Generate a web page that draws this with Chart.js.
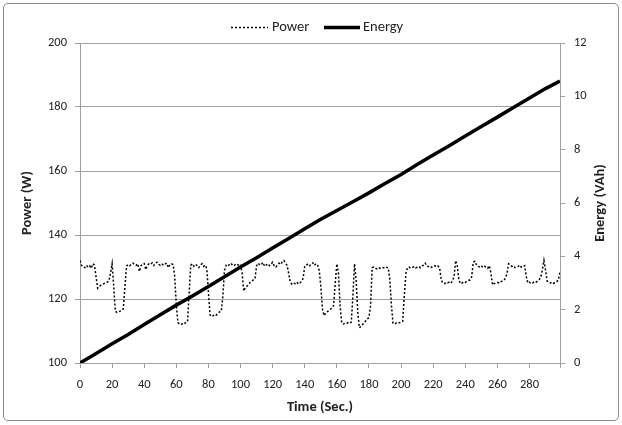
<!DOCTYPE html>
<html>
<head>
<meta charset="utf-8">
<script src="https://cdn.jsdelivr.net/npm/chart.js@4.4.1/dist/chart.umd.min.js"></script>
<style>
  html, body { margin: 0; padding: 0; background: #fff; }
  #wrap { position: relative; width: 622px; height: 425px; }
  #frame {
    position: absolute; left: 3px; top: 3px; width: 614px; height: 416px;
    border: 1px solid #8c8c8c; border-radius: 5px; pointer-events: none;
  }
</style>
</head>
<body>
<div id="wrap">
  <canvas id="chart" width="622" height="425"></canvas>
  <div id="frame"></div>
</div>
<script>
// Power (W), one reading per second, t = 0..299
const powerValues = [
  132, 130.5, 130.2, 129.8, 130.5, 130, 130.4, 129.6, 131, 130.6,
  127, 123.4, 124, 124.3, 124.6, 124.8, 125, 125.3, 125.6, 128,
  131, 124, 116.2, 115.8, 116, 116.2, 116.4, 117, 124, 130.3,
  130.8, 130.4, 130.9, 131.2, 130.7, 130.5, 131, 128.6, 130.4, 130.9,
  131.1, 129.2, 130.6, 131, 130.8, 131.3, 130.5, 131.2, 131.5, 130.8,
  130.6, 131, 130.5, 130.9, 131.2, 129.8, 130.7, 131, 130.8, 127,
  118, 112.6, 112.2, 112, 112.4, 112.2, 112.8, 113, 122, 130.5,
  131, 130.2, 130.8, 130.4, 129.8, 130.5, 131, 130.2, 130.6, 129.5,
  122, 115, 114.5, 114.8, 115.2, 115, 115.6, 116, 116.2, 121,
  129, 130.5, 130.2, 130.8, 131.2, 130.6, 130.4, 131, 130.8, 130.5,
  130.8, 128, 122.5, 123.6, 124, 124.5, 125.2, 125.6, 126, 126.4,
  130.4, 131.2, 130.6, 130.8, 131.4, 130.2, 130.6, 131, 130.4, 130.9,
  131.5, 130.3, 130, 130.6, 131.2, 130.8, 131.6, 132, 131.2, 130.5,
  128, 125.2, 124.6, 125, 124.8, 125.3, 124.7, 125, 125.5, 126.5,
  130.2, 130.6, 131, 130.4, 130.8, 131.3, 130.5, 131, 130.6, 129,
  124, 117, 114.8, 115.5, 116, 116.4, 116.8, 117.2, 118, 125,
  131, 128, 118, 112.6, 112.2, 112.4, 112.3, 112.6, 112.4, 112.8,
  121, 131, 126, 116, 111, 111.4, 112, 112.6, 113.2, 113.8,
  114.2, 118, 129.8, 130, 129.6, 129.4, 129.8, 129.6, 129.5, 129.8,
  129.6, 129.9, 129.7, 126, 118, 112.4, 112.2, 112.5, 112.3, 112.6,
  112.8, 113, 121, 128, 129.8, 130, 129.6, 129.8, 130.1, 129.7,
  129.9, 130.2, 129.8, 130.3, 130.6, 131.2, 130.4, 130.1, 130.3, 129.9,
  130.2, 130.4, 130, 130.3, 129.8, 126, 125, 124.8, 125.2, 125,
  125.3, 125, 125.6, 127, 132, 130.4, 126, 124.8, 125, 125.4,
  125.2, 125.6, 125.8, 126, 127, 131.5, 131.8, 130.6, 130.2, 130,
  130.4, 129.8, 130.2, 130, 129.6, 130.4, 128, 124.4, 124.8, 125,
  125.2, 125, 125.4, 125.6, 125.8, 126.5, 128, 131, 130.6, 130.2,
  130.4, 129.8, 130, 130.2, 130.6, 129.9, 130.1, 130.4, 127, 125,
  125.2, 124.8, 125, 125.4, 125.2, 125.6, 126, 126.8, 129, 132,
  129, 125.6, 125.2, 125, 125.3, 124.9, 125.1, 125.4, 126, 128.5
];

// Energy (VAh) read every 10 s
const energyTimes = [0, 10, 20, 30, 40, 50, 60, 70, 80, 90, 100, 110, 120, 130, 140,
  150, 160, 170, 180, 190, 200, 210, 220, 230, 240, 250, 260, 270, 280, 290, 299];
const energyValues = [0, 0.36, 0.72, 1.07, 1.44, 1.81, 2.17, 2.51, 2.87, 3.23, 3.6,
  3.95, 4.31, 4.67, 5.03, 5.39, 5.72, 6.05, 6.38, 6.73, 7.07, 7.44, 7.8, 8.15,
  8.51, 8.87, 9.22, 9.58, 9.94, 10.29, 10.57];

const xTickLabels = [0, 20, 40, 60, 80, 100, 120, 140, 160, 180, 200, 220, 240, 260, 280];
const xEnd = 299;

const GRID = "#a0a0a0";
const TXT = "#222";
const FONT = 'Carlito, Calibri, "Open Sans", sans-serif';

Chart.defaults.font.family = FONT;
Chart.defaults.font.size = 12.5;
Chart.defaults.color = TXT;

// legend + right axis title, drawn by hand so they sit like the original
const extras = {
  id: "extras",
  afterDraw(chart) {
    const ctx = chart.ctx;
    ctx.save();
    ctx.strokeStyle = "#000";
    ctx.fillStyle = TXT;
    ctx.font = "14.5px " + FONT;
    ctx.textBaseline = "middle";

    ctx.lineWidth = 1.5;
    ctx.setLineDash([2, 2]);
    ctx.beginPath();
    ctx.moveTo(231, 27.5);
    ctx.lineTo(268, 27.5);
    ctx.stroke();
    ctx.fillText("Power", 272, 27);

    ctx.lineWidth = 3.5;
    ctx.setLineDash([]);
    ctx.beginPath();
    ctx.moveTo(324, 27.5);
    ctx.lineTo(360, 27.5);
    ctx.stroke();
    ctx.fillText("Energy", 363, 27);

    ctx.font = "bold 14.5px " + FONT;
    ctx.textAlign = "center";
    ctx.translate(600, 203);
    ctx.rotate(-Math.PI / 2);
    ctx.fillText("Energy (VAh)", 0, 0);
    ctx.restore();
  },
};

new Chart(document.getElementById("chart"), {
  type: "line",
  data: {
    datasets: [
      {
        label: "Power",
        data: powerValues.map((v, i) => ({ x: i, y: v })),
        yAxisID: "y",
        borderColor: "#000",
        borderWidth: 1.5,
        borderDash: [2, 2],
        pointRadius: 0,
        tension: 0,
      },
      {
        label: "Energy",
        data: energyValues.map((v, i) => ({ x: energyTimes[i], y: v })),
        yAxisID: "y1",
        borderColor: "#000",
        borderWidth: 3.5,
        pointRadius: 0,
        tension: 0,
      },
    ],
  },
  options: {
    responsive: false,
    animation: false,
    devicePixelRatio: 1,
    layout: { padding: { top: 43, left: 4, right: 4, bottom: 0 } },
    plugins: { legend: { display: false }, tooltip: { enabled: false } },
    scales: {
      x: {
        type: "linear",
        min: 0,
        max: xEnd,
        afterBuildTicks: (s) => {
          s.ticks = xTickLabels.concat([xEnd]).map((v) => ({ value: v }));
        },
        afterFit: (s) => { s.height = 62; },
        ticks: {
          autoSkip: false,
          maxRotation: 0,
          padding: 9,
          callback: (v) => (xTickLabels.includes(v) ? String(v) : ""),
        },
        grid: { drawOnChartArea: false, tickLength: 5, color: GRID },
        border: { color: GRID },
        title: {
          display: true,
          text: "Time (Sec.)",
          font: { weight: "bold", size: 14.5 },
          padding: { top: 0, bottom: 9 },
        },
      },
      y: {
        position: "left",
        min: 100,
        max: 200,
        ticks: { stepSize: 20, padding: 8 },
        afterFit: (s) => { s.width = 76; },
        grid: { color: GRID, tickLength: 5 },
        border: { color: GRID },
        title: {
          display: true,
          text: "Power (W)",
          font: { weight: "bold", size: 14.5 },
          padding: { top: 15, bottom: 0 },
        },
      },
      y1: {
        position: "right",
        min: 0,
        max: 12,
        ticks: { stepSize: 2, padding: 9 },
        afterFit: (s) => { s.width = 58; },
        grid: { drawOnChartArea: false, color: GRID, tickLength: 5 },
        border: { color: GRID },
      },
    },
  },
  plugins: [extras],
});
</script>
</body>
</html>
